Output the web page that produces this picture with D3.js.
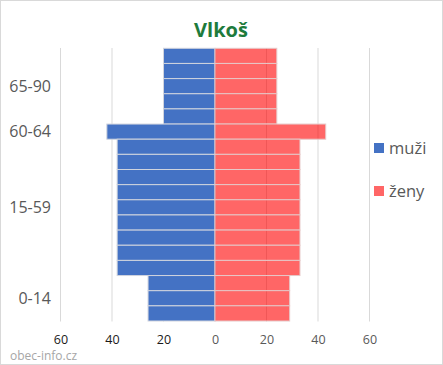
<!DOCTYPE html>
<html>
<head>
<meta charset="utf-8">
<script src="https://cdn.jsdelivr.net/npm/d3@7"></script>
<style>
  html, body { margin: 0; padding: 0; background: #fff; }
  svg { display: block; }
</style>
</head>
<body>
<svg id="chart" width="443" height="365"></svg>
<script>
// ---- data (rows listed from the top of the pyramid down) ----
const ageBands = ["85-90","80-84","75-79","70-74","65-69","60-64",
  "55-59","50-54","45-49","40-44","35-39","30-34","25-29","20-24","15-19",
  "10-14","5-9","0-4"];
const men   = [20,20,20,20,20,42,38,38,38,38,38,38,38,38,38,26,26,26];
const women = [24,24,24,24,24,43,33,33,33,33,33,33,33,33,33,29,29,29];
const groupLabels = ["65-90","60-64","15-59","0-14"];
const groupLabelRows = ["75-79","60-64","35-39","5-9"];
const xTicks = [-60,-40,-20,0,20,40,60];
const seriesNames = ["muži","ženy"];
const title = "Vlkoš";
const watermark = "obec-info.cz";

const svg = d3.select("#chart");
const W = 443, H = 365;
const font = "'Open Sans', sans-serif";

svg.append("rect").attr("x",0.5).attr("y",0.5).attr("width",W-1).attr("height",H-1)
  .attr("fill","#fff").attr("stroke","#d9d9d9");

const x = d3.scaleLinear().domain([-60,60]).range([60.5,369.5]);
const y = d3.scaleBand().domain(ageBands).range([48.3,321]).padding(0);

// gridlines
svg.append("g").selectAll("line").data(xTicks).join("line")
  .attr("x1",d=>x(d)).attr("x2",d=>x(d))
  .attr("y1",48).attr("y2",321.5)
  .attr("stroke","#d9d9d9").attr("stroke-width",1);

// men bars (opaque)
svg.append("g").selectAll("rect").data(ageBands).join("rect")
  .attr("x",(d,i)=>x(-men[i])).attr("width",(d,i)=>x(0)-x(-men[i]))
  .attr("y",d=>y(d)).attr("height",y.bandwidth())
  .attr("fill","#4472c4").attr("stroke","#d0d4de").attr("stroke-width",1);

// women bars (semi-transparent, gridlines show through)
svg.append("g").selectAll("rect").data(ageBands).join("rect")
  .attr("x",x(0)).attr("width",(d,i)=>x(women[i])-x(0))
  .attr("y",d=>y(d)).attr("height",y.bandwidth())
  .attr("fill","#ff0000").attr("fill-opacity",0.6)
  .attr("stroke","#e6c8c8").attr("stroke-width",1);

// y group labels
svg.append("g").selectAll("text").data(groupLabels).join("text")
  .attr("x",51).attr("y",(d,i)=>y(groupLabelRows[i])+y.bandwidth()/2)
  .attr("dy","0.35em").attr("text-anchor","end")
  .attr("font-family",font).attr("font-size",16).attr("fill","#595959")
  .text(d=>d);

// x axis labels (absolute values)
const xAxis = d3.axisBottom(x).tickValues(xTicks).tickFormat(d=>Math.abs(d)).tickSize(0);
const gx = svg.append("g").attr("transform","translate(0,332)").call(xAxis);
gx.select(".domain").remove();
gx.selectAll("text").attr("font-family",font).attr("font-size",12.5)
  .attr("fill",d=>d<0?"#1a1a1a":"#595959").attr("dy","0.71em");

// title
svg.append("text").attr("x",221).attr("y",37).attr("text-anchor","middle")
  .attr("font-family",font).attr("font-weight","bold").attr("font-size",20)
  .attr("fill","#1e7b3c").text(title);

// legend
const legColors = ["#4472c4","#ff6666"];
const leg = svg.append("g").selectAll("g").data(seriesNames).join("g")
  .attr("transform",(d,i)=>`translate(374,${143+i*43})`);
leg.append("rect").attr("width",10).attr("height",10).attr("fill",(d,i)=>legColors[i]);
leg.append("text").attr("x",15).attr("y",5).attr("dy","0.35em")
  .attr("font-family",font).attr("font-size",16.5).attr("fill","#595959").text(d=>d);

// watermark
svg.append("text").attr("x",10).attr("y",356).attr("dy","0.35em")
  .attr("font-family",font).attr("font-size",12).attr("fill","#a6a6a6").text(watermark);
</script>
</body>
</html>
